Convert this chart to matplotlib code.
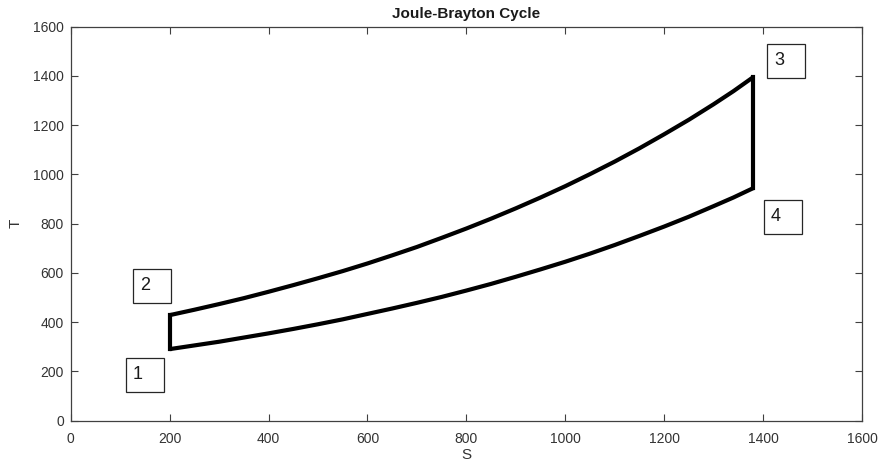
import matplotlib
matplotlib.use("Agg")
import matplotlib.pyplot as plt
from matplotlib.patches import Rectangle

plt.rcParams['font.family'] = ['Liberation Sans', 'DejaVu Sans']

# Entropy (S) and temperature (T) along the two isobars of the cycle
s_points = [200, 250, 300, 350, 400, 450, 500, 550, 600, 650, 700, 750, 800, 850,
            900, 950, 1000, 1050, 1100, 1150, 1200, 1250, 1300, 1340, 1380]
t_low = [290, 305, 320, 337, 354, 372, 391, 411, 433, 455, 478, 502, 528, 555,
         584, 614, 645, 678, 713, 750, 788, 828, 871, 906, 944]
t_high = [428, 450, 473, 497, 523, 550, 578, 607, 638, 671, 705, 742, 780, 820,
          862, 906, 952, 1001, 1052, 1106, 1163, 1222, 1285, 1338, 1395]

# State labels and where they are placed (left edge, centre height)
state_labels = ["1", "2", "3", "4"]
label_s = [126, 140, 1422, 1416]
label_t = [185, 547, 1461, 827]

fig = plt.figure(figsize=(8.81, 4.65), dpi=100)
ax = fig.add_axes([70.7 / 881, 1 - 420.5 / 465, (862 - 70.7) / 881, (420.5 - 26.7) / 465])

lw = 3.0
# lower isobar 1 -> 4
ax.plot(s_points, t_low, color='black', lw=lw, solid_capstyle='butt', solid_joinstyle='round')
# upper isobar 2 -> 3
ax.plot(s_points, t_high, color='black', lw=lw, solid_capstyle='butt', solid_joinstyle='round')
# isentropic steps 1 -> 2 and 3 -> 4
ax.plot([s_points[0], s_points[0]], [t_low[0], t_high[0]], color='black', lw=lw,
        solid_capstyle='projecting')
ax.plot([s_points[-1], s_points[-1]], [t_low[-1], t_high[-1]], color='black', lw=lw,
        solid_capstyle='projecting')

# boxed state numbers
box_w = 77
box_h = 138
for lab, sx, ty in zip(state_labels, label_s, label_t):
    ax.add_patch(Rectangle((sx - 14, ty - box_h / 2), box_w, box_h, fill=False,
                           edgecolor='#262626', lw=0.9, zorder=3))
    ax.text(sx, ty, lab, fontsize=13, ha='left', va='center', color='#1a1a1a', zorder=4)

ax.set_xlim(0, 1600)
ax.set_ylim(0, 1600)
ax.set_xticks(range(0, 1601, 200))
ax.set_yticks(range(0, 1601, 200))

spine_c = '#404040'
for sp in ax.spines.values():
    sp.set_color(spine_c)
    sp.set_linewidth(0.9)
ax.tick_params(direction='in', length=5, width=0.8, color=spine_c, labelcolor='#333333',
               labelsize=10, top=True, right=True)
ax.tick_params(axis='x', pad=8)
ax.tick_params(axis='y', pad=5)

ax.set_title('Joule-Brayton Cycle', fontsize=11, fontweight='bold', color='#1a1a1a', pad=6)
ax.set_xlabel('S', fontsize=11, color='#333333', labelpad=2)
ax.set_ylabel('T', fontsize=11, color='#333333', labelpad=7)

fig.savefig('out.png', dpi=100, facecolor='white')
